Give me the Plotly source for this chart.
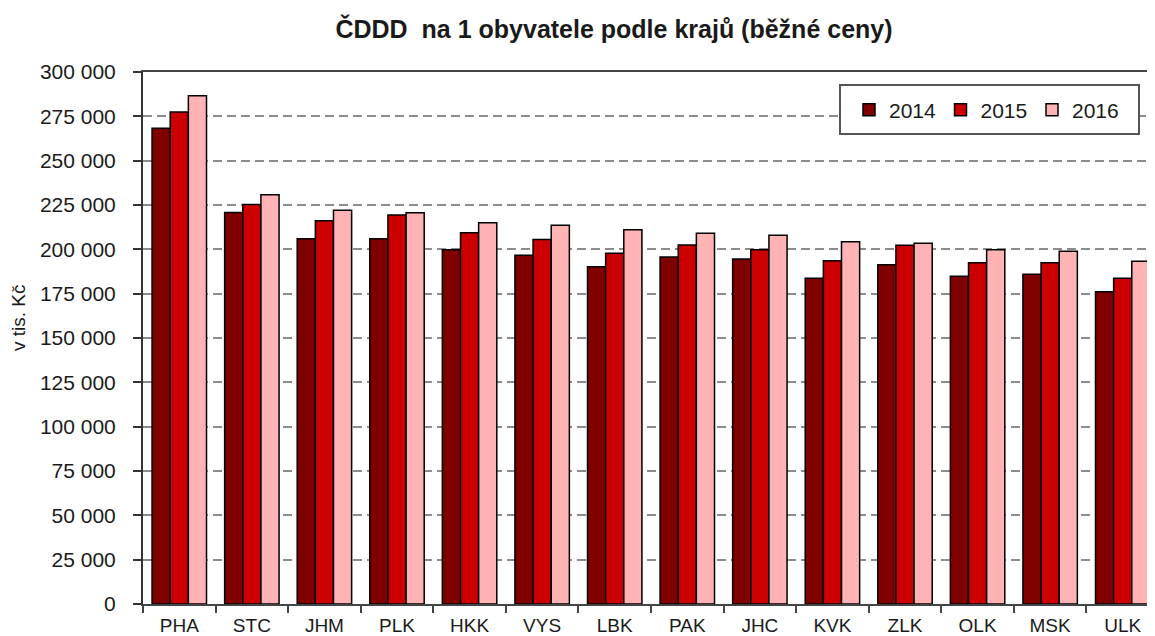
import plotly.graph_objects as go

regions = ["PHA", "STC", "JHM", "PLK", "HKK", "VYS", "LBK", "PAK", "JHC", "KVK", "ZLK", "OLK", "MSK", "ULK"]
v2014 = [268300, 220800, 205900, 205900, 199800, 196700, 190200, 195700, 194600, 183700, 191300, 184800, 185900, 176100]
v2015 = [277400, 225300, 216100, 219400, 209300, 205500, 197800, 202400, 199800, 193500, 202300, 192400, 192400, 183700]
v2016 = [286600, 230800, 222000, 220600, 215000, 213600, 211100, 209100, 208000, 204300, 203400, 199800, 198900, 193300]
years = ["2014", "2015", "2016"]
colors = ["#800000", "#CC0000", "#FFB3B5"]

# page offset of the plot div (body margin)
OFF = 8
W, H = 1155, 636
L, R, T = 143 - OFF, 4, 72 - OFF
B = H - (604 - OFF)
pw, ph = W - L - R, H - T - B

def px_x(x):  # page pixel -> paper x
    return (x - OFF - L) / pw

def px_y(y):  # page pixel -> paper y
    return (H - B - (y - OFF)) / ph

fig = go.Figure()
for name, vals, col in zip(years, [v2014, v2015, v2016], colors):
    fig.add_trace(go.Bar(
        x=regions, y=vals, name=name,
        marker=dict(color=col, line=dict(color="#000000", width=1.5)),
    ))

font_family = "Arial, Liberation Sans, sans-serif"

fig.update_layout(
    width=W, height=H,
    margin=dict(l=L, r=R, t=T, b=B, pad=0),
    paper_bgcolor="white", plot_bgcolor="white",
    barmode="group", bargap=0.25, bargroupgap=0,
    separators=", ",
    font=dict(family=font_family, size=20, color="#1a1a1a"),
    title=dict(
        text="<b>ČDDD  na 1 obyvatele podle krajů (běžné ceny)</b>",
        x=(614 - OFF) / W, xref="container", xanchor="center",
        y=1 - (29.5 - OFF) / H, yref="container", yanchor="middle",
        font=dict(family=font_family, size=25, color="#1a1a1a"),
    ),
    xaxis=dict(
        range=[-0.5, 13.5],
        showline=True, linecolor="#444444", linewidth=2, mirror=True,
        ticks="outside", ticklen=7, tickwidth=1.5, tickcolor="#444444",
        tickson="boundaries", showgrid=False,
        tickfont=dict(size=19, color="#1a1a1a"),
        ticklabelstandoff=3,
    ),
    yaxis=dict(
        range=[0, 300000], dtick=25000, tickformat=",d",
        showline=True, linecolor="#333333", linewidth=2,
        ticks="outside", ticklen=8, tickwidth=1.5, tickcolor="#333333",
        showgrid=True, gridcolor="#8c8c8c", gridwidth=1.5, griddash="9px,5px",
        zeroline=False,
        tickfont=dict(size=21, color="#1a1a1a"),
        ticklabelstandoff=13,
    ),
    legend=dict(
        orientation="h",
        x=px_x(849), xanchor="left",
        y=px_y(110), yanchor="middle",
        bgcolor="rgba(0,0,0,0)", borderwidth=0,
        font=dict(size=21, color="#1a1a1a"),
        entrywidth=46.5,
        traceorder="normal",
    ),
    shapes=[dict(
        type="rect", xref="paper", yref="paper",
        x0=px_x(840), x1=px_x(1139), y0=px_y(134), y1=px_y(85),
        line=dict(color="#555555", width=2), fillcolor="white", layer="above",
    )],
    annotations=[dict(
        text="v tis. Kč", xref="paper", yref="paper",
        x=0, xshift=(18 - OFF) - L, xanchor="center",
        y=px_y(318), yanchor="middle",
        textangle=-90, showarrow=False,
        font=dict(size=19, color="#1a1a1a"),
    )],
)

fig.write_html("out.html")
